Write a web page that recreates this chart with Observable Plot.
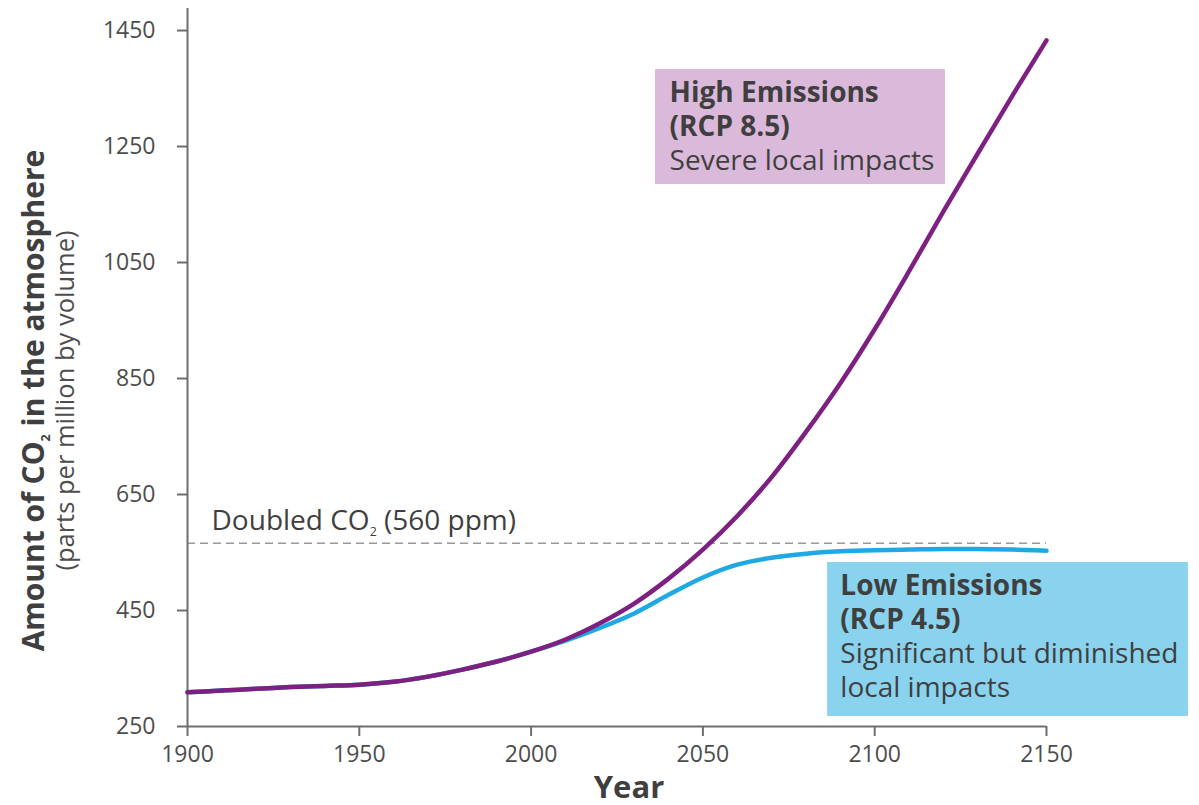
<!DOCTYPE html>
<html>
<head>
<meta charset="utf-8">
<script src="https://cdn.jsdelivr.net/npm/d3@7"></script>
<script src="https://cdn.jsdelivr.net/npm/@observablehq/plot@0.6"></script>
<style>
  html, body { margin: 0; padding: 0; background: #fff; }
  svg { display: block; }
</style>
</head>
<body>
<div id="chart"></div>
<script>
// ---- Data ----
const years = [1900, 1910, 1920, 1930, 1940, 1950, 1960, 1970, 1980, 1990, 2000, 2010, 2020, 2030, 2040, 2050, 2060, 2070, 2080, 2090, 2100, 2110, 2120, 2130, 2140, 2150];
const highEmissions = [309, 312, 315, 318, 320, 322, 327, 336, 348, 362, 379, 400, 428, 462, 505, 555, 613, 680, 758, 842, 935, 1035, 1138, 1238, 1337, 1433];
const lowEmissions  = [309, 312, 315, 318, 320, 322, 327, 336, 348, 362, 379, 398, 420, 445, 477, 507, 529, 541, 548, 552, 554, 555, 556, 556, 555, 553];
const yTicks = [250, 450, 650, 850, 1050, 1250, 1450];
const xTicks = [1900, 1950, 2000, 2050, 2100, 2150];
const doubledCO2 = 566;
const doubledLabel = "Doubled CO₂ (560 ppm)";
const highTitleLines = ["High Emissions", "(RCP 8.5)"];
const highBodyLines = ["Severe local impacts"];
const lowTitleLines = ["Low Emissions", "(RCP 4.5)"];
const lowBodyLines = ["Significant but diminished", "local impacts"];
const yTitle = "Amount of CO₂ in the atmosphere";
const ySubtitle = "(parts per million by volume)";
const xTitle = "Year";

const high = years.map((year, i) => ({year, ppm: highEmissions[i]}));
const low = years.map((year, i) => ({year, ppm: lowEmissions[i]}));
const highNote = [...highTitleLines, ...highBodyLines].join("\n");
const lowNote = [...lowTitleLines, ...lowBodyLines].join("\n");

const textColor = "#3f3f3f";
const axisColor = "#6e6e6e";
const purple = "#7e1f82";
const blue = "#1ea9e2";

const chart = Plot.plot({
  width: 1199,
  height: 805,
  marginLeft: 187,
  marginRight: 153,
  marginTop: 8,
  marginBottom: 79,
  style: {fontFamily: "'Open Sans', sans-serif", background: "#fff"},
  x: {domain: [1900, 2150]},
  y: {domain: [250, 1488]},
  marks: [
    // annotation boxes
    Plot.rect([0], {x1: 2036.2, x2: 2120.6, y1: 1184.5, y2: 1382.8, fill: "#dbb9da"}),
    Plot.rect([0], {x1: 2086.3, x2: 2191.3, y1: 267.2, y2: 532.8, fill: "#89d3ee"}),
    // doubled CO2 reference
    Plot.ruleY([doubledCO2], {x1: 1900, x2: 2150, stroke: "#9a9a9a", strokeWidth: 1.6, strokeDasharray: "8,5"}),
    Plot.text([doubledLabel], {x: 1907, y: doubledCO2, text: d => d, textAnchor: "start", lineAnchor: "bottom", dy: -13, fontSize: 28, fill: textColor}),
    // axes
    Plot.ruleX([1900], {stroke: axisColor, strokeWidth: 2}),
    Plot.ruleY([250], {x1: 1900, x2: 2150, stroke: axisColor, strokeWidth: 2}),
    Plot.axisY(yTicks, {tickSize: 10, tickPadding: 22, fontSize: 23, tickFormat: d3.format("d"), stroke: axisColor, strokeWidth: 2, fill: "#4d4d4d", label: null}),
    Plot.axisX(xTicks, {tickSize: 10, tickPadding: 9, fontSize: 23, tickFormat: d3.format("d"), stroke: axisColor, strokeWidth: 2, fill: "#4d4d4d", label: null}),
    // lines
    Plot.line(low, {x: "year", y: "ppm", stroke: blue, strokeWidth: 4.5, curve: "monotone-x"}),
    Plot.line(high, {x: "year", y: "ppm", stroke: purple, strokeWidth: 4.5, curve: "monotone-x"}),
    // box texts (first two lines bold, set below)
    Plot.text([highNote], {x: 2040.3, y: 1382.8, text: d => d, textAnchor: "start", lineAnchor: "top", dy: 8, fontSize: 28, lineHeight: 1.214, fill: textColor, className: "note"}),
    Plot.text([lowNote], {x: 2090.0, y: 532.8, text: d => d, textAnchor: "start", lineAnchor: "top", dy: 8, fontSize: 28, lineHeight: 1.214, fill: textColor, className: "note"}),
    // axis titles
    Plot.text([yTitle], {x: 1855.3, y: 812, text: d => d, rotate: -90, fontSize: 30, fontWeight: "bold", fill: textColor}),
    Plot.text([ySubtitle], {x: 1864.5, y: 812, text: d => d, rotate: -90, fontSize: 25.5, fill: "#4d4d4d"}),
    Plot.text([xTitle], {frameAnchor: "bottom", text: d => d, dx: 12, dy: 71, fontSize: 31, fontWeight: "bold", fill: textColor})
  ]
});

// bold title lines inside the annotation boxes
d3.select(chart).selectAll("g.note text").each(function() {
  d3.select(this).selectAll("tspan").each(function(_, i) {
    if (i < 2) d3.select(this).attr("font-weight", "bold");
  });
});

// render the "2" of CO₂ as a lowered subscript
d3.select(chart).selectAll("text").each(function() {
  const t = this.textContent;
  if (!t.includes("₂") || this.querySelector("tspan")) return;
  const fs = parseFloat(this.getAttribute("font-size")) || parseFloat(getComputedStyle(this).fontSize) || 20;
  const [a, b] = t.split("₂");
  const sel = d3.select(this);
  sel.text(null);
  sel.append("tspan").text(a);
  sel.append("tspan").attr("font-size", (fs * 0.62).toFixed(1)).attr("dy", (fs * 0.3).toFixed(1)).text("2");
  sel.append("tspan").attr("dy", (-fs * 0.3).toFixed(1)).text(b);
});

document.getElementById("chart").appendChild(chart);
</script>
</body>
</html>
